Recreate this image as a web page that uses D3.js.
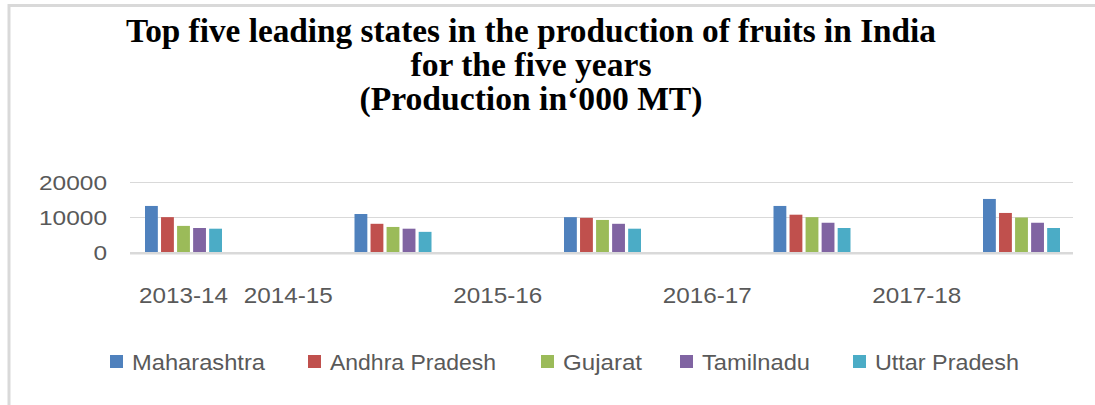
<!DOCTYPE html>
<html>
<head>
<meta charset="utf-8">
<script src="https://cdn.jsdelivr.net/npm/d3@7"></script>
<style>
  html, body { margin: 0; padding: 0; background: #fff; }
  svg { display: block; }
</style>
</head>
<body>
<svg id="chart" width="1095" height="405"></svg>
<script>
// Данные
const years = ['2013-14', '2014-15', '2015-16', '2016-17', '2017-18'];
const states = ['Maharashtra', 'Andhra Pradesh', 'Gujarat', 'Tamilnadu', 'Uttar Pradesh'];
const maharashtra = [13300, 11000, 10100, 13300, 15300];
const andhraPradesh = [10100, 8200, 9900, 10800, 11300];
const gujarat = [7600, 7300, 9300, 10100, 10000];
const tamilnadu = [7000, 6800, 8200, 8500, 8500];
const uttarPradesh = [6800, 5900, 6800, 7000, 7000];
const yTicks = [0, 10000, 20000];
// где стоят подписи оси X (в долях шага между группами) — как на оригинале
const labelSlots = [0, 0.5, 1.5, 2.5, 3.5];

const seriesValues = [maharashtra, andhraPradesh, gujarat, tamilnadu, uttarPradesh];
const colors = ['#4f81bd', '#c0504d', '#9bbb59', '#8064a2', '#4bacc6'];

const svg = d3.select('#chart');

// Рамка
svg.append('line').attr('x1', 9).attr('x2', 1095).attr('y1', 5.5).attr('y2', 5.5)
    .attr('stroke', '#d9d9d9').attr('stroke-width', 3);
svg.append('line').attr('x1', 9).attr('x2', 9).attr('y1', 4).attr('y2', 405)
    .attr('stroke', '#d9d9d9').attr('stroke-width', 3);

// Заголовок
const titleLines = [
    { text: 'Top five leading states in the production of fruits in India', y: 42, w: 810 },
    { text: 'for the five years', y: 76, w: 241 },
    { text: '(Production in\u2018000 MT)', y: 110, w: 343 }
];
svg.append('g').selectAll('text')
    .data(titleLines)
    .enter().append('text')
    .attr('x', 531)
    .attr('y', d => d.y)
    .attr('text-anchor', 'middle')
    .attr('textLength', d => d.w)
    .attr('lengthAdjust', 'spacingAndGlyphs')
    .style('font-family', '"Liberation Serif", "Times New Roman", serif')
    .style('font-weight', 'bold')
    .style('font-size', '33px')
    .style('fill', '#000')
    .text(d => d.text);

// Область графика
const plot = { left: 130, right: 1073, top: 182.5, bottom: 252.5 };

const y = d3.scaleLinear()
    .domain([0, 20000])
    .range([plot.bottom, plot.top]);

const xIdx = d3.scaleLinear()
    .domain([0, years.length - 1])
    .range([plot.left + 53.5, plot.right - 51.5]);

const xSeries = d3.scaleBand()
    .domain(states)
    .range([-38.5, 38.5])
    .paddingInner(0.2);

// Сетка
svg.append('g').selectAll('line')
    .data(yTicks.filter(t => t > 0))
    .enter().append('line')
    .attr('x1', plot.left).attr('x2', plot.right)
    .attr('y1', d => y(d)).attr('y2', d => y(d))
    .attr('stroke', '#d9d9d9').attr('stroke-width', 1.2);

// Подписи оси Y
svg.append('g').selectAll('text')
    .data(yTicks)
    .enter().append('text')
    .attr('x', 107)
    .attr('y', d => y(d) + 7.5)
    .attr('text-anchor', 'end')
    .attr('textLength', d => String(d).length * 13.6)
    .attr('lengthAdjust', 'spacingAndGlyphs')
    .style('font-family', '"Liberation Sans", Arial, sans-serif')
    .style('font-size', '21px')
    .style('fill', '#595959')
    .text(d => d);

// Столбцы
const groups = svg.append('g').selectAll('g')
    .data(years)
    .enter().append('g')
    .attr('transform', (d, i) => `translate(${xIdx(i)},0)`);

groups.selectAll('rect')
    .data((d, i) => states.map((s, k) => ({ state: s, value: seriesValues[k][i], color: colors[k] })))
    .enter().append('rect')
    .attr('x', d => xSeries(d.state))
    .attr('width', xSeries.bandwidth())
    .attr('y', d => y(d.value))
    .attr('height', d => y(0) - y(d.value))
    .attr('fill', d => d.color);

// Ось X
svg.append('line')
    .attr('x1', plot.left).attr('x2', plot.right)
    .attr('y1', y(0) + 0.8).attr('y2', y(0) + 0.8)
    .attr('stroke', '#d9d9d9').attr('stroke-width', 2.5);

// Подписи оси X
svg.append('g').selectAll('text')
    .data(years)
    .enter().append('text')
    .attr('x', (d, i) => xIdx(labelSlots[i]))
    .attr('y', 303)
    .attr('text-anchor', 'middle')
    .attr('textLength', 89)
    .attr('lengthAdjust', 'spacingAndGlyphs')
    .style('font-family', '"Liberation Sans", Arial, sans-serif')
    .style('font-size', '22px')
    .style('fill', '#595959')
    .text(d => d);

// Легенда
const legendX = [110, 308, 541, 680, 853];
const legendW = [133, 166, 79, 108, 144];
const legend = svg.append('g').selectAll('g')
    .data(states)
    .enter().append('g')
    .attr('transform', (d, i) => `translate(${legendX[i]},355)`);

legend.append('rect')
    .attr('width', 13).attr('height', 13)
    .attr('fill', (d, i) => colors[i]);

legend.append('text')
    .attr('x', 22)
    .attr('y', 15)
    .attr('textLength', (d, i) => legendW[i])
    .attr('lengthAdjust', 'spacingAndGlyphs')
    .style('font-family', '"Liberation Sans", Arial, sans-serif')
    .style('font-size', '22px')
    .style('fill', '#595959')
    .text(d => d);
</script>
</body>
</html>
